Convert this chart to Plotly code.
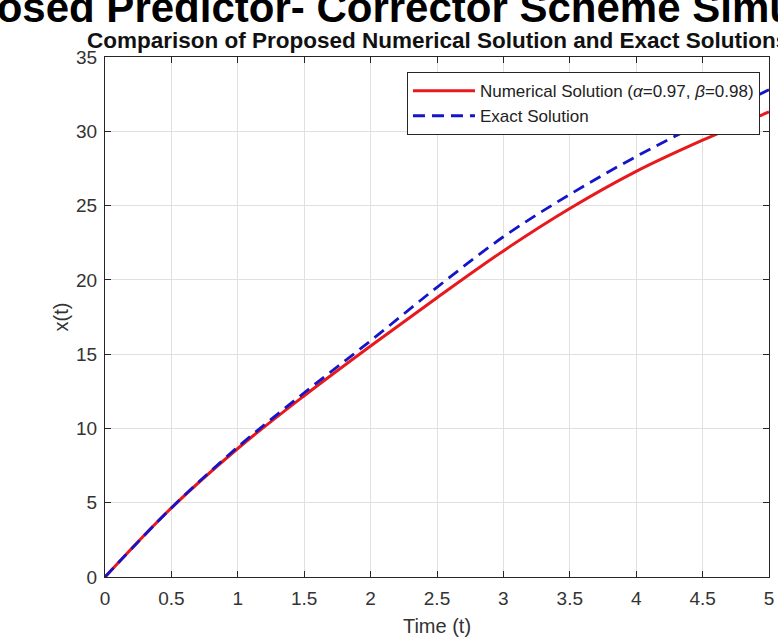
import plotly.graph_objects as go

t = [0, 0.5, 1, 1.5, 2, 2.5, 3, 3.5, 4, 4.5, 5]
numerical = [0, 4.65, 8.65, 12.2, 15.55, 18.8, 21.95, 24.8, 27.3, 29.4, 31.3]
exact = [0, 4.65, 8.75, 12.4, 15.9, 19.5, 22.9, 25.75, 28.3, 30.6, 32.8]

x_ticks = [0, 0.5, 1, 1.5, 2, 2.5, 3, 3.5, 4, 4.5, 5]
y_ticks = [0, 5, 10, 15, 20, 25, 30, 35]

FONT = "Liberation Sans, Arial, sans-serif"

fig = go.Figure()
fig.add_trace(go.Scatter(
    x=t, y=numerical, mode="lines", line=dict(color="#e8191c", width=3, shape="spline"),
    name="Numerical Solution (<i>α</i>=0.97, <i>β</i>=0.98)"))
fig.add_trace(go.Scatter(
    x=t, y=exact, mode="lines", line=dict(color="#1414c8", width=2.8, dash="12px,7px", shape="spline"),
    name="Exact Solution"))

axis_common = dict(
    showline=True, linecolor="#262626", linewidth=1, mirror="ticks",
    ticks="inside", ticklen=6, tickcolor="#262626",
    showgrid=True, gridcolor="#e0e0e0", gridwidth=1, zeroline=False,
    tickfont=dict(family=FONT, size=19, color="#333333"),
    automargin=False,
)

fig.update_xaxes(range=[0, 5], tickvals=x_ticks, ticktext=[str(v) for v in x_ticks],
                 ticklabelstandoff=4,
                 title=dict(text="Time (t)", font=dict(family=FONT, size=20, color="#333333"), standoff=14),
                 **axis_common)
fig.update_yaxes(range=[0, 35], tickvals=y_ticks, ticklabelstandoff=3,
                 title=dict(text="x(t)", font=dict(family=FONT, size=20, color="#333333"), standoff=2),
                 **axis_common)

fig.update_layout(
    width=778, height=637,
    margin=dict(l=105, r=9, t=57, b=60),
    paper_bgcolor="white", plot_bgcolor="white",
    showlegend=True,
    legend=dict(x=0.9864, y=0.971, xanchor="right", yanchor="top",
                bgcolor="white", bordercolor="#262626", borderwidth=1,
                font=dict(family=FONT, size=17, color="#222222"),
                tracegroupgap=0, itemwidth=62),
    annotations=[
        dict(text="<b>Proposed Predictor- Corrector Scheme Simulation</b>", xref="paper", yref="paper",
             x=0.45, y=1.046, xanchor="center", yanchor="bottom", showarrow=False,
             font=dict(family=FONT, size=42, color="black")),
        dict(text="<b>Comparison of Proposed Numerical Solution and Exact Solutions</b>", xref="paper", yref="paper",
             x=0.5, y=1.004, xanchor="center", yanchor="bottom", showarrow=False,
             font=dict(family=FONT, size=22.5, color="#111111")),
    ],
)

fig.write_html("out.html", config={"displayModeBar": False},
               post_script="document.body.style.margin='0';")
